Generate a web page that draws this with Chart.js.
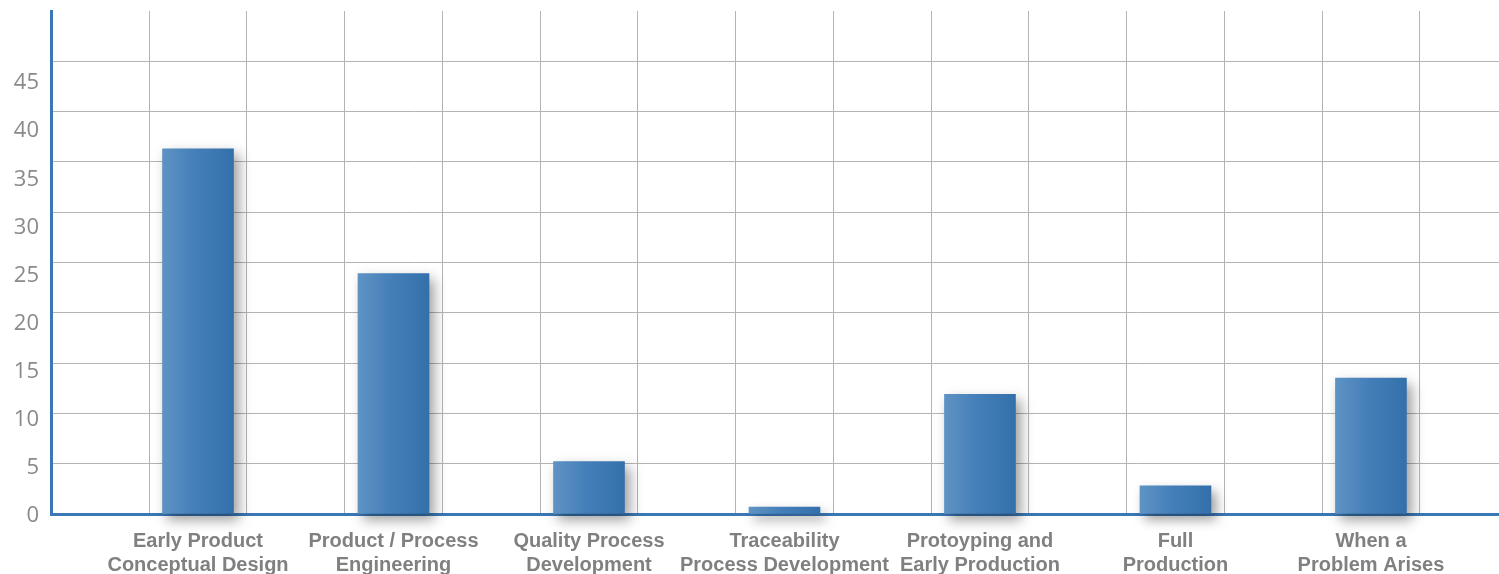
<!DOCTYPE html>
<html>
<head>
<meta charset="utf-8">
<script src="https://cdn.jsdelivr.net/npm/chart.js@4/dist/chart.umd.min.js"></script>
<style>
  html, body { margin: 0; padding: 0; background: #ffffff; }
  #wrap { width: 1499px; height: 574px; }
</style>
</head>
<body>
<div id="wrap"><canvas id="chart" width="1499" height="574"></canvas></div>
<script>
// Project stages (two-line labels) and the share for each stage
const categories = [
  ['Early Product', 'Conceptual Design'],
  ['Product / Process', 'Engineering'],
  ['Quality Process', 'Development'],
  ['Traceability', 'Process Development'],
  ['Protoyping and', 'Early Production'],
  ['Full', 'Production'],
  ['When a', 'Problem Arises']
];
const values = [36.3, 23.9, 5.2, 0.7, 11.9, 2.8, 13.5];
const yTickValues = [0, 5, 10, 15, 20, 25, 30, 35, 40, 45];
const yMax = 50;
// the printed value column runs on a slightly tighter pitch than the grid
const yLabelMin = 0.2;
const yLabelMax = 52.5;

const points = values.map((v, i) => ({ x: i, y: v }));

const AXIS_BLUE = '#3a77b4';
const GRID = '#b3b3b3';

// Soft drop shadow behind the bars
const barShadow = {
  id: 'barShadow',
  beforeDatasetsDraw(chart) {
    const c = chart.ctx;
    c.save();
    c.shadowColor = 'rgba(0,0,0,0.38)';
    c.shadowBlur = 12;
    c.shadowOffsetX = 5;
    c.shadowOffsetY = 6;
  },
  afterDatasetsDraw(chart) {
    chart.ctx.restore();
  }
};

function barFill(ctx) {
  const chart = ctx.chart;
  if (!chart.chartArea || ctx.type !== 'data') return '#3d79b5';
  const cx = chart.scales.x.getPixelForValue(ctx.dataIndex);
  const g = chart.ctx.createLinearGradient(cx - 36, 0, cx + 36, 0);
  g.addColorStop(0, '#5f93c4');
  g.addColorStop(0.45, '#457fb9');
  g.addColorStop(1, '#3370aa');
  return g;
}

function noVerticalPadding(scale) {
  scale.paddingTop = 0;
  scale.paddingBottom = 0;
}

new Chart(document.getElementById('chart'), {
  type: 'bar',
  data: {
    datasets: [{
      data: points,
      backgroundColor: barFill,
      borderWidth: 0,
      barThickness: 71,
      clip: false,
      xAxisID: 'x',
      yAxisID: 'y'
    }]
  },
  plugins: [barShadow],
  options: {
    responsive: false,
    animation: false,
    layout: { padding: { top: 11, right: 0, left: 0, bottom: 0 } },
    plugins: { legend: { display: false }, tooltip: { enabled: false } },
    scales: {
      x: {
        type: 'linear',
        offset: false,
        min: -0.752,
        max: 6.655,
        afterBuildTicks(scale) {
          const t = [];
          for (let k = 0; k <= 14; k++) t.push(k * 0.5 - 0.75);
          for (let i = 0; i < categories.length; i++) t.push(i);
          t.sort((a, b) => a - b);
          scale.ticks = t.map(v => ({ value: v }));
        },
        afterFit(scale) { scale.height = 60; },
        grid: {
          offset: false,
          color: c => (c.tick && Number.isInteger(c.tick.value)) ? 'rgba(0,0,0,0)' : GRID,
          lineWidth: 1,
          drawTicks: false
        },
        border: { display: true, color: AXIS_BLUE, width: 3 },
        ticks: {
          autoSkip: false,
          maxRotation: 0,
          minRotation: 0,
          padding: 15,
          color: '#808080',
          font: { family: '"Liberation Sans", Arial, sans-serif', size: 20, weight: 'bold', lineHeight: 1.2 },
          callback: v => Number.isInteger(v) && categories[v] ? categories[v] : ''
        }
      },
      // value axis: grid lines and the blue axis line
      y: {
        position: 'left',
        weight: 0,
        min: 0,
        max: yMax,
        afterBuildTicks(scale) {
          scale.ticks = yTickValues.concat([yMax]).map(v => ({ value: v }));
        },
        afterFit(scale) { scale.width = 0; noVerticalPadding(scale); },
        grid: {
          color: c => (c.tick && c.tick.value === yMax) ? 'rgba(0,0,0,0)' : GRID,
          lineWidth: 1,
          drawTicks: false
        },
        border: { display: true, color: AXIS_BLUE, width: 3 },
        ticks: { display: false }
      },
      // printed value labels
      yLabels: {
        type: 'linear',
        position: 'left',
        weight: 1,
        min: yLabelMin,
        max: yLabelMax,
        afterBuildTicks(scale) {
          scale.ticks = yTickValues.map(v => ({ value: v }));
        },
        afterFit(scale) { scale.width = 51; noVerticalPadding(scale); },
        grid: { display: false, drawTicks: false },
        border: { display: false },
        ticks: {
          padding: 12,
          color: '#8a8a8a',
          font: { family: '"Open Sans", "Noto Sans", sans-serif', size: 22 },
          callback: v => String(v)
        }
      }
    }
  }
});
</script>
</body>
</html>
